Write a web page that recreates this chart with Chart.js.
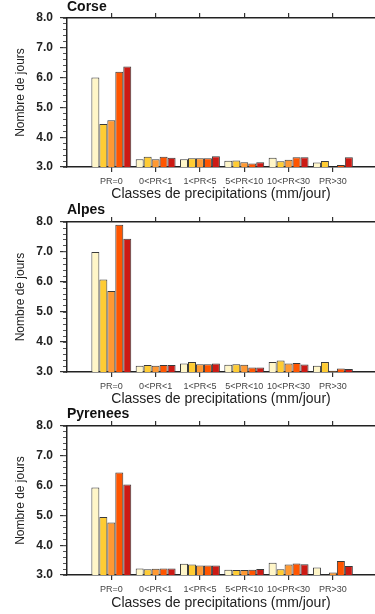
<!DOCTYPE html>
<html>
<head>
<meta charset="utf-8">
<script src="https://cdn.jsdelivr.net/npm/chart.js@4/dist/chart.umd.min.js"></script>
<style>
  html, body { margin: 0; padding: 0; background: #fff; overflow: hidden; }
  canvas { display: block; }
</style>
</head>
<body>
<canvas id="c1" width="375" height="203"></canvas>
<canvas id="c2" width="375" height="204"></canvas>
<canvas id="c3" width="375" height="207"></canvas>
<script>
// ---- data ----
const categories = ['PR=0', '0<PR<1', '1<PR<5', '5<PR<10', '10<PR<30', 'PR>30'];
const yMin = 3.0, yMax = 8.0;
const yTitle = 'Nombre de jours';
const xTitle = 'Classes de precipitations (mm/jour)';
const seriesColors = ['#FFF6C8', '#FFCC33', '#FF9933', '#FF5500', '#CC1A14'];

const corseS1 = [6.00, 3.26, 3.26, 3.21, 3.31, 3.15];
const corseS2 = [4.44, 3.34, 3.29, 3.22, 3.19, 3.20];
const corseS3 = [4.57, 3.26, 3.29, 3.16, 3.24, 3.00];
const corseS4 = [6.20, 3.34, 3.29, 3.12, 3.33, 3.07];
const corseS5 = [6.37, 3.31, 3.36, 3.16, 3.33, 3.33];

const alpesS1 = [7.00, 3.21, 3.28, 3.24, 3.33, 3.21];
const alpesS2 = [6.08, 3.23, 3.33, 3.26, 3.38, 3.33];
const alpesS3 = [5.70, 3.21, 3.26, 3.24, 3.28, 3.04];
const alpesS4 = [7.91, 3.23, 3.26, 3.15, 3.30, 3.12];
const alpesS5 = [7.44, 3.23, 3.28, 3.15, 3.25, 3.10];

const pyrS1 = [5.94, 3.22, 3.38, 3.18, 3.41, 3.25];
const pyrS2 = [4.95, 3.19, 3.35, 3.17, 3.19, 3.02];
const pyrS3 = [4.76, 3.21, 3.32, 3.17, 3.35, 3.08];
const pyrS4 = [6.44, 3.22, 3.32, 3.18, 3.39, 3.47];
const pyrS5 = [6.04, 3.22, 3.32, 3.20, 3.36, 3.30];

// ---- drawing ----
Chart.defaults.font.family = '"Liberation Sans", Arial, Helvetica, sans-serif';

function makePanel(id, title, series, H, T, B, xTitlePadBottom) {
  const ctx = document.getElementById(id);
  const catTicks = s => { s.ticks = categories.map((c, i) => ({ value: i })); };
  return new Chart(ctx, {
    type: 'bar',
    data: {
      datasets: series.map((vals, k) => ({
        label: 'S' + (k + 1),
        data: vals.map((v, i) => ({ x: i, y: v })),
        backgroundColor: seriesColors[k],
        borderColor: '#3a3a3a',
        borderWidth: 1,
        borderSkipped: 'start',
        categoryPercentage: 0.9,
        barPercentage: 1.0,
        xAxisID: 'x',
        yAxisID: 'y'
      }))
    },
    options: {
      responsive: false,
      animation: false,
      devicePixelRatio: 1,
      layout: { padding: 0 },
      plugins: {
        legend: { display: false },
        tooltip: { enabled: false },
        title: {
          display: true, text: title, align: 'start', fullSize: false,
          color: '#111', padding: 0,
          font: { size: 14, weight: 'bold', lineHeight: 1 }
        }
      },
      scales: {
        x: {
          type: 'linear', position: 'bottom', min: -1, max: 5.95, offset: false,
          grid: { offset: false, drawOnChartArea: false, drawTicks: true, tickLength: 5, color: '#333', lineWidth: 1.2 },
          border: { display: true, color: '#222', width: 1.5 },
          ticks: { padding: 4, color: '#444', font: { size: 9 }, maxRotation: 0, autoSkip: false,
                   callback: v => categories[v] ?? '' },
          afterBuildTicks: catTicks,
          title: { display: true, text: xTitle, color: '#222', font: { size: 14, lineHeight: 1.0 },
                   padding: { top: 0, bottom: xTitlePadBottom } },
          afterFit: s => { s.height = H - B; }
        },
        xTop: {
          type: 'linear', position: 'top', min: -1, max: 5.95, offset: false,
          grid: { offset: false, drawOnChartArea: false, drawTicks: true, tickLength: 5, color: '#333', lineWidth: 1.2 },
          border: { display: true, color: '#222', width: 1.5 },
          ticks: { display: false },
          afterBuildTicks: catTicks,
          afterFit: s => { s.height = T - 14; }
        },
        y: {
          type: 'linear', position: 'left', weight: 1, min: yMin, max: yMax,
          grid: { drawOnChartArea: false, drawTicks: true, tickLength: 7, color: '#333', lineWidth: 1.2 },
          border: { display: true, color: '#222', width: 1.5 },
          ticks: { stepSize: 1, padding: 7, color: '#222', font: { size: 12, weight: 'bold' },
                   callback: v => Number(v).toFixed(1) },
          title: { display: true, text: yTitle, color: '#222', font: { size: 12, lineHeight: 1.2 },
                   padding: { top: 13, bottom: 0 } },
          afterFit: s => { s.width = 67; }
        },
        yMinor: {
          type: 'linear', position: 'left', weight: 0, min: yMin, max: yMax,
          grid: { drawOnChartArea: false, drawTicks: true, tickLength: 4, color: '#555', lineWidth: 1 },
          border: { display: false },
          ticks: { display: false, stepSize: 0.2 },
          afterFit: s => { s.width = 0; }
        }
      }
    }
  });
}

makePanel('c1', 'Corse', [corseS1, corseS2, corseS3, corseS4, corseS5], 203, 18, 167, 1.7);
makePanel('c2', 'Alpes', [alpesS1, alpesS2, alpesS3, alpesS4, alpesS5], 204, 19, 169, 0.5);
makePanel('c3', 'Pyrenees', [pyrS1, pyrS2, pyrS3, pyrS4, pyrS5], 207, 19, 168, 4);
</script>
</body>
</html>
